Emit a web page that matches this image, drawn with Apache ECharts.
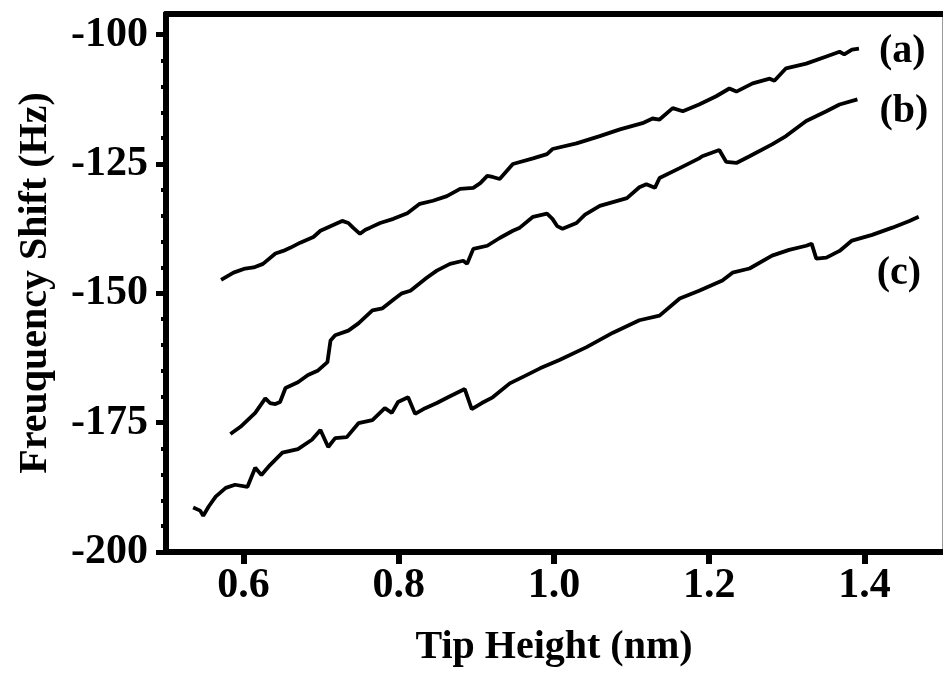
<!DOCTYPE html>
<html>
<head>
<meta charset="utf-8">
<script src="https://cdn.jsdelivr.net/npm/echarts@6/dist/echarts.min.js"></script>
<style>
html,body{margin:0;padding:0;background:#fff;}
#chart{width:943px;height:673px;}
</style>
</head>
<body>
<div id="chart"></div>
<script>
// Curve (a)
const aX = [0.571,0.587,0.602,0.613,0.625,0.641,0.651,0.660,0.673,0.690,0.699,0.727,0.735,0.741,0.750,0.757,0.763,0.776,0.793,0.811,0.827,0.844,0.862,0.879,0.896,0.905,0.914,0.921,0.930,0.947,0.973,0.991,0.998,1.029,1.059,1.085,1.114,1.127,1.136,1.153,1.166,1.187,1.209,1.226,1.235,1.256,1.278,1.284,1.299,1.325,1.351,1.368,1.374,1.384,1.393];
const aY = [-147.4,-146.0,-145.2,-145.0,-144.3,-142.3,-141.8,-141.2,-140.2,-139.1,-137.9,-136.0,-136.4,-137.3,-138.5,-137.7,-137.3,-136.4,-135.6,-134.5,-132.7,-132.1,-131.2,-129.8,-129.6,-128.7,-127.3,-127.5,-127.9,-125.0,-123.9,-123.1,-122.1,-121.0,-119.6,-118.3,-117.1,-116.2,-116.4,-114.2,-114.8,-113.5,-111.9,-110.4,-111.0,-109.4,-108.5,-108.9,-106.5,-105.6,-104.2,-103.3,-103.8,-102.9,-102.7];
// Curve (b)
const bX = [0.583,0.596,0.598,0.615,0.628,0.634,0.641,0.647,0.654,0.670,0.683,0.696,0.708,0.712,0.718,0.735,0.748,0.766,0.779,0.795,0.804,0.815,0.836,0.849,0.866,0.883,0.888,0.896,0.914,0.930,0.947,0.956,0.973,0.991,0.998,1.004,1.011,1.029,1.040,1.059,1.068,1.094,1.110,1.119,1.130,1.136,1.162,1.187,1.191,1.213,1.222,1.235,1.252,1.281,1.299,1.325,1.351,1.368,1.391];
const bY = [-177.2,-175.8,-175.5,-173.1,-170.3,-171.2,-171.4,-171.0,-168.3,-167.2,-165.8,-164.9,-163.3,-159.1,-158.1,-157.2,-155.8,-153.3,-152.9,-151.0,-150.0,-149.5,-147.0,-145.6,-144.3,-143.7,-144.3,-141.4,-140.8,-139.3,-137.9,-137.3,-135.2,-134.6,-135.6,-137.0,-137.5,-136.4,-134.8,-133.1,-132.7,-131.6,-129.5,-128.9,-129.6,-127.7,-125.8,-123.9,-123.5,-122.3,-124.6,-124.8,-123.5,-121.2,-119.6,-116.7,-114.8,-113.5,-112.5];
// Curve (c)
const cX = [0.535,0.544,0.548,0.555,0.564,0.577,0.589,0.605,0.615,0.623,0.634,0.650,0.670,0.688,0.699,0.709,0.718,0.733,0.748,0.766,0.782,0.791,0.799,0.812,0.821,0.834,0.849,0.866,0.885,0.894,0.907,0.921,0.943,0.962,0.982,1.007,1.042,1.076,1.110,1.136,1.162,1.187,1.217,1.230,1.252,1.281,1.303,1.325,1.332,1.338,1.351,1.368,1.384,1.410,1.436,1.458,1.470];
const cY = [-191.4,-192.0,-193.0,-191.2,-189.3,-187.6,-187.0,-187.4,-183.7,-185.1,-183.2,-180.8,-180.1,-178.3,-176.4,-179.7,-178.0,-177.8,-175.1,-174.5,-172.2,-173.1,-171.0,-170.1,-173.3,-172.2,-171.2,-169.9,-168.5,-172.4,-171.2,-170.1,-167.4,-166.0,-164.5,-162.9,-160.4,-157.6,-155.2,-154.3,-151.0,-149.5,-147.5,-146.0,-145.2,-142.7,-141.6,-140.8,-140.4,-143.3,-143.1,-141.8,-139.8,-138.7,-137.3,-136.0,-135.2];

const seriesNames = ['(a)', '(b)', '(c)'];
const xTicks = [0.6, 0.8, 1.0, 1.2, 1.4];
const yTicks = [-200, -175, -150, -125, -100];
const yMinor = [-195,-190,-185,-180,-170,-165,-160,-155,-145,-140,-135,-130,-120,-115,-110,-105];
const xTitle = 'Tip Height (nm)';
const yTitle = 'Freuquency Shift (Hz)';

const FONT = '"Liberation Serif", "Times New Roman", serif';
const pair = (xs, ys) => xs.map((x, i) => [x, ys[i]]);

const chart = echarts.init(document.getElementById('chart'), null, {renderer: 'canvas'});
const labelStyle = {fontFamily: FONT, fontWeight: 'bold', fontSize: 40, color: '#000'};
const tickStyle = {fontFamily: FONT, fontWeight: 'bold', fontSize: 42, color: '#000'};
const mkSeries = (name, data, offset) => ({
  name: name, type: 'line', data: data, xAxisIndex: 0, yAxisIndex: 0,
  showSymbol: false, symbol: 'none',
  lineStyle: {color: '#000', width: 3.8},
  endLabel: Object.assign({show: true, formatter: name, distance: 0, offset: offset, align: 'left', verticalAlign: 'middle'}, labelStyle)
});

chart.setOption({
  animation: false,
  backgroundColor: '#fff',
  grid: {left: 166, right: 1, top: 14, bottom: 120.5, containLabel: false},
  xAxis: [
    {type: 'value', min: 0.5, max: 1.5, position: 'bottom',
     axisLine: {show: true, onZero: false, lineStyle: {color: '#000', width: 6}},
     axisTick: {show: true, customValues: xTicks, length: 12, lineStyle: {color: '#000', width: 6}},
     axisLabel: Object.assign({customValues: xTicks, margin: 13, formatter: v => v.toFixed(1)}, tickStyle),
     splitLine: {show: false},
     name: xTitle, nameLocation: 'middle', nameGap: 76,
     nameTextStyle: labelStyle},
    {type: 'value', min: 0.5, max: 1.5, position: 'top',
     axisLine: {show: true, onZero: false, lineStyle: {color: '#000', width: 6}},
     axisTick: {show: false}, axisLabel: {show: false}, splitLine: {show: false}}
  ],
  yAxis: [
    {type: 'value', min: -200, max: -96, position: 'left',
     axisLine: {show: true, onZero: false, lineStyle: {color: '#000', width: 6}},
     axisTick: {show: true, customValues: yTicks, length: 10, lineStyle: {color: '#000', width: 5}},
     axisLabel: Object.assign({customValues: yTicks, margin: 18}, tickStyle),
     splitLine: {show: false},
     name: yTitle, nameLocation: 'middle', nameGap: 110, nameRotate: 90,
     nameTextStyle: labelStyle},
    {type: 'value', min: -200, max: -96, position: 'left',
     axisLine: {show: false, onZero: false},
     axisTick: {show: true, customValues: yMinor, length: 5, lineStyle: {color: '#000', width: 4}},
     axisLabel: {show: false}, splitLine: {show: false}},
    {type: 'value', min: -200, max: -96, position: 'right',
     axisLine: {show: true, onZero: false, lineStyle: {color: '#999', width: 1}},
     axisTick: {show: false}, axisLabel: {show: false}, splitLine: {show: false}}
  ],
  series: [
    mkSeries(seriesNames[0], pair(aX, aY), [20, 3]),
    mkSeries(seriesNames[1], pair(bX, bY), [22, 12]),
    mkSeries(seriesNames[2], pair(cX, cY), [-42, 57])
  ]
});
</script>
</body>
</html>
